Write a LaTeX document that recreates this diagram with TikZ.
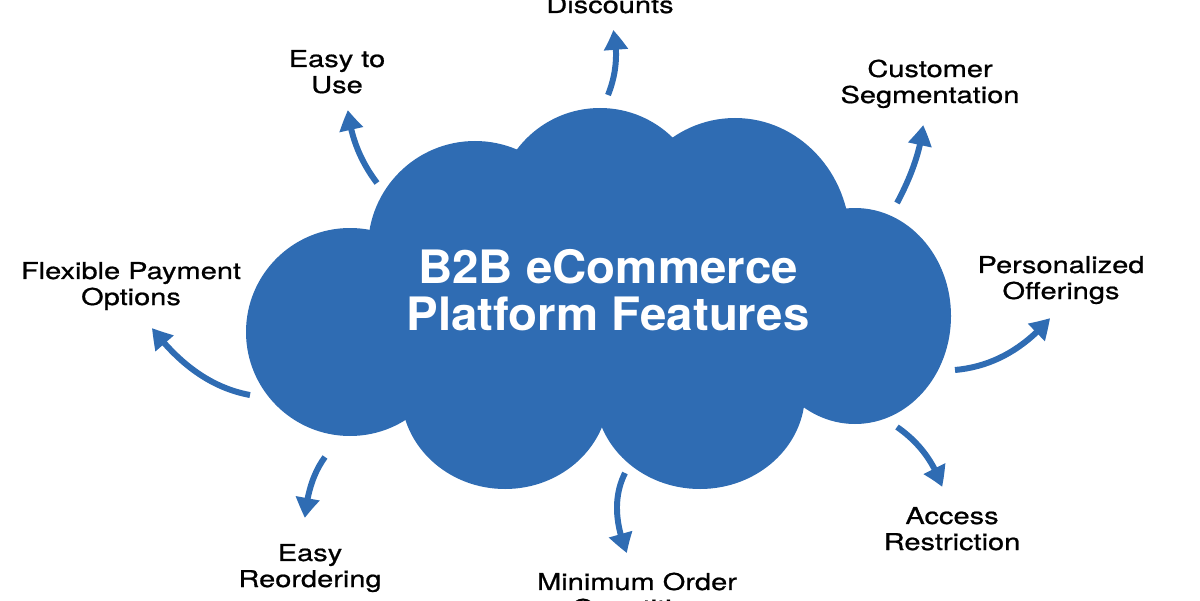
\documentclass[tikz,border=0pt]{standalone}
\usepackage{xcolor}
\definecolor{cloudblue}{HTML}{2F6CB3}
\usepackage{fontspec}
\setmainfont{TeX Gyre Heros}
\newfontfamily\featfont[FakeStretch=1.25,FakeBold=0.8]{TeX Gyre Heros}
\newfontfamily\titlefont[FakeStretch=1.03]{TeX Gyre Heros}
\usepackage{tikz}
\usetikzlibrary{arrows.meta,bending}

\begin{document}
\begin{tikzpicture}[x=0.2mm, y=-0.2mm,
    lobe/.style={fill=cloudblue, draw=none},
    feat/.style={font=\featfont\fontsize{13.2}{14.8}\selectfont, align=center, inner sep=0pt, anchor=base},
    flow/.style={draw=cloudblue, line width=3.4pt, -{Triangle[length=4mm, width=4.6mm, bend]}}]
  \useasboundingbox (0,0) rectangle (1200,600);

  % the cloud, one lobe at a time
  \fill[lobe] (350,332) circle[radius=104];
  \fill[lobe] (475,248) circle[radius=107];
  \fill[lobe] (600,212) circle[radius=104];
  \fill[lobe] (735,240) ellipse[x radius=115, y radius=122];
  \fill[lobe] (855,316) ellipse[x radius=96, y radius=108];
  \fill[lobe] (700,393) ellipse[x radius=105, y radius=96];
  \fill[lobe] (505,392) ellipse[x radius=104, y radius=97];
  \fill[lobe] (600,310) ellipse[x radius=260, y radius=105];

  % base sits on the last line
  \node[font=\titlefont\bfseries\fontsize{26.2}{26.7}\selectfont, text=white,
        align=center, inner sep=0pt, anchor=base] (title) at (608,330)
    {B2B eCommerce\\Platform Features};

  % features round the cloud
  \node[feat] (disc)  at (610,13)  {Discounts};
  \node[feat] (easy)  at (337,93)  {Easy to\\Use};
  \node[feat] (cust)  at (930,103) {Customer\\Segmentation};
  \node[feat] (flex)  at (131,305) {Flexible Payment\\Options};
  \node[feat] (pers)  at (1061,299) {Personalized\\Offerings};
  \node[feat] (acc)   at (952,550) {Access\\Restriction};
  \node[feat] (minq)  at (637,616) {Minimum Order\\Quantities};
  \node[feat] (reord) at (310,587) {Easy\\Reordering};

  % arrow ends
  \coordinate (disc-t)  at (608,95);  \coordinate (disc-h)  at (613,30);
  \coordinate (easy-t)  at (377,183); \coordinate (easy-h)  at (348,110);
  \coordinate (cust-t)  at (897,203); \coordinate (cust-h)  at (923,125);
  \coordinate (flex-t)  at (250,395); \coordinate (flex-h)  at (152,328);
  \coordinate (pers-t)  at (955,370); \coordinate (pers-h)  at (1050,318);
  \coordinate (acc-t)   at (897,427); \coordinate (acc-h)   at (942,487);
  \coordinate (minq-t)  at (625,473); \coordinate (minq-h)  at (627,553);
  \coordinate (reord-t) at (325,457); \coordinate (reord-h) at (305,518);

  \draw[flow] (disc-t)  .. controls (616.7,73) and (618.3,51.3) .. (disc-h);
  \draw[flow] (easy-t)  .. controls (360.3,161) and (350.7,136.7) .. (easy-h);
  \draw[flow] (cust-t)  .. controls (912.3,174.3) and (921,148.3) .. (cust-h);
  \draw[flow] (flex-t)  .. controls (213.3,388.3) and (180.7,366) .. (flex-h);
  \draw[flow] (pers-t)  .. controls (991.7,366.7) and (1023.3,349.3) .. (pers-h);
  \draw[flow] (acc-t)   .. controls (919,442.3) and (934,462.3) .. (acc-h);
  \draw[flow] (minq-t)  .. controls (613.7,495.7) and (614.3,522.3) .. (minq-h);
  \draw[flow] (reord-t) .. controls (313.7,472.3) and (307,492.7) .. (reord-h);
\end{tikzpicture}
\end{document}
